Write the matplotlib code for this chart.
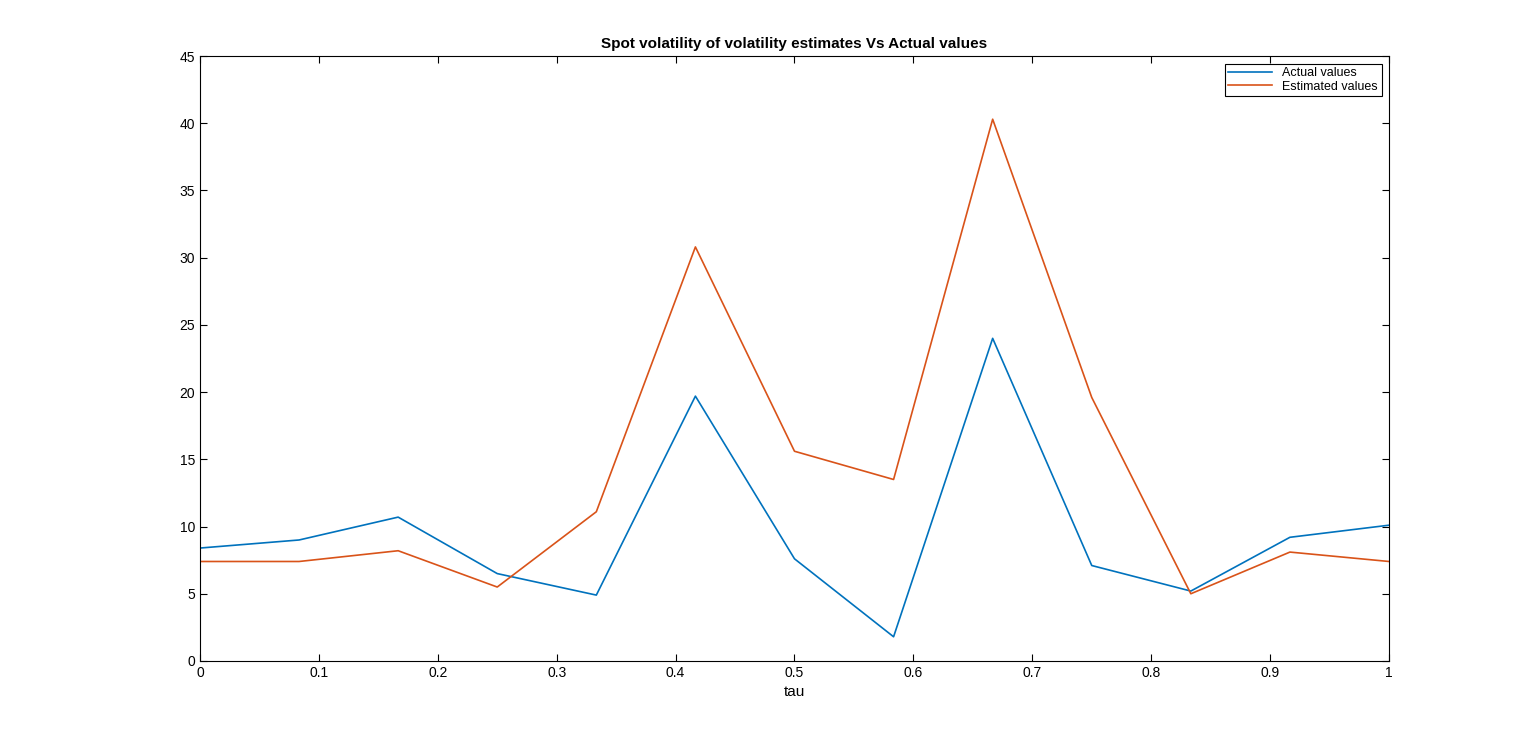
import numpy as np
from matplotlib import pyplot as plt

tau = np.arange(13) / 12
actual = [8.4, 9.0, 10.7, 6.5, 4.9, 19.7, 7.6, 1.8, 24.0, 7.1, 5.2, 9.2, 10.1]
estimated = [7.4, 7.4, 8.2, 5.5, 11.1, 30.8, 15.6, 13.5, 40.3, 19.6, 5.0, 8.1, 7.4]

plt.rcParams['font.family'] = ['Liberation Sans', 'DejaVu Sans']
fig = plt.figure(figsize=(15.36, 7.44), dpi=100)
ax = fig.add_axes([0.1302, 0.1116, 0.7741, 0.8131])

ax.plot(tau, actual, color='#0072BD', lw=1.2, label='Actual values')
ax.plot(tau, estimated, color='#D95319', lw=1.2, label='Estimated values')

ax.set_xlim(0, 1)
ax.set_ylim(0, 45)
ax.set_xticks(np.arange(0, 1.01, 0.1))
ax.set_xticklabels(['0'] + ['%.1f' % v for v in np.arange(0.1, 0.95, 0.1)] + ['1'])
ax.set_yticks(range(0, 46, 5))
ax.tick_params(direction='in', top=True, right=True, labelsize=10, length=5)
for s in ax.spines.values():
    s.set_linewidth(0.8)

ax.set_xlabel('tau', fontsize=11)
ax.set_title('Spot volatility of volatility estimates Vs Actual values',
             fontsize=11, fontweight='bold')
leg = ax.legend(loc='upper right', fontsize=9, fancybox=False, framealpha=1,
                edgecolor='black', borderaxespad=0.6, handlelength=3.5,
                labelspacing=0.1, borderpad=0.3)
leg.get_frame().set_linewidth(0.8)

fig.savefig('out.png', dpi=100, facecolor='white')
